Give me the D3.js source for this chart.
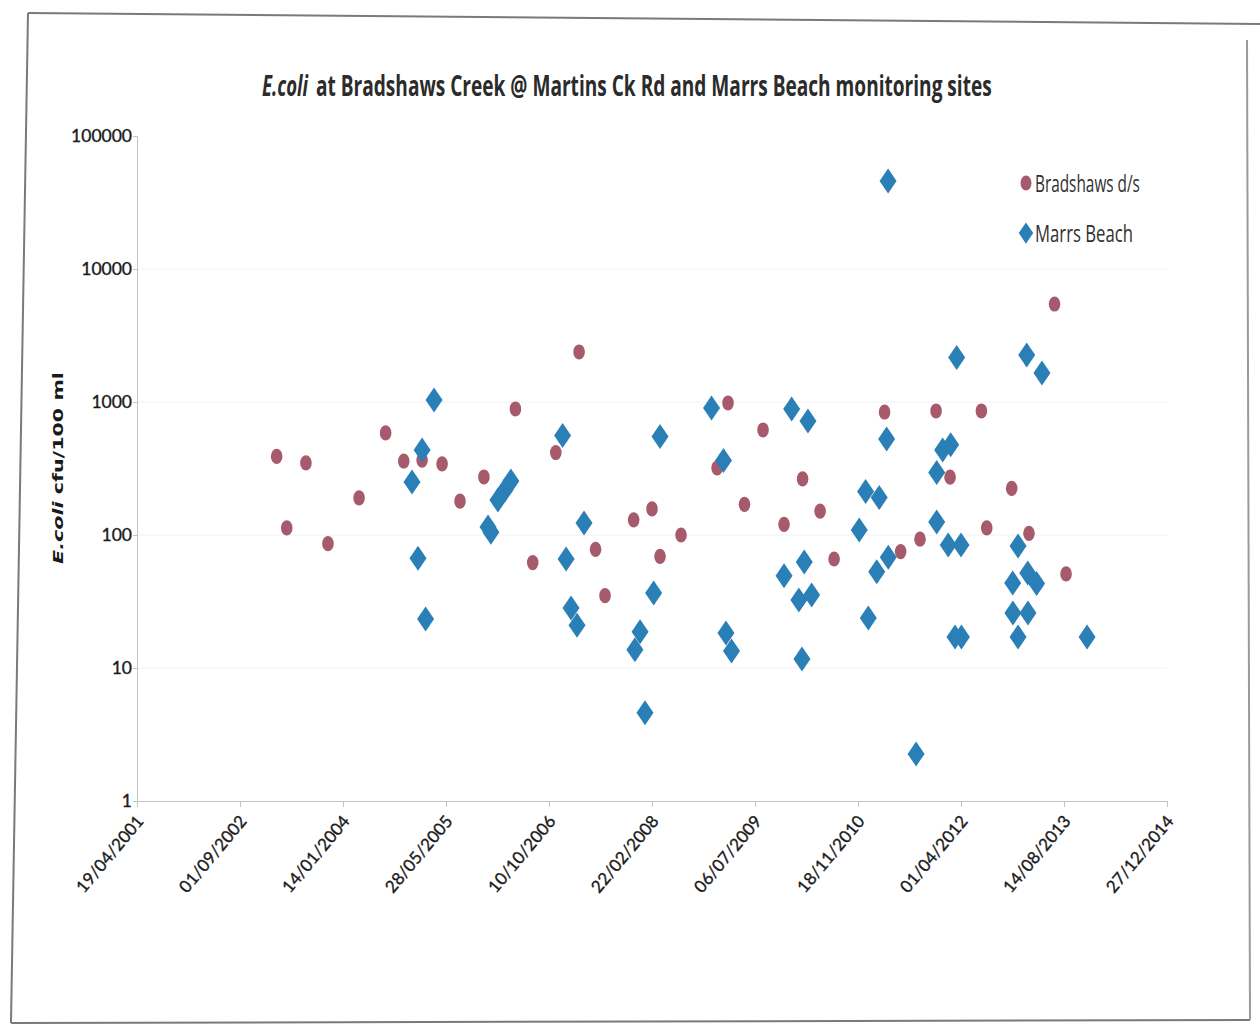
<!DOCTYPE html>
<html>
<head>
<meta charset="utf-8">
<script src="https://cdn.jsdelivr.net/npm/d3@7/dist/d3.min.js"></script>
<style>
  html, body { margin: 0; padding: 0; background: #ffffff; }
  svg { display: block; }
</style>
</head>
<body>
<svg id="chart" width="1260" height="1029"></svg>
<script>
// ---------------- data ----------------
const chartTitleItalic = "E.coli";
const chartTitleRest = "at Bradshaws Creek @ Martins Ck Rd and Marrs Beach monitoring sites";
const yTitleItalic = "E.coli";
const yTitleRest = " cfu/100 ml";
const seriesNames = ["Bradshaws d/s", "Marrs Beach"];

const xTickLabels = ["19/04/2001", "01/09/2002", "14/01/2004", "28/05/2005", "10/10/2006",
  "22/02/2008", "06/07/2009", "18/11/2010", "01/04/2012", "14/08/2013", "27/12/2014"];
const yTickValues = [1, 10, 100, 1000, 10000, 100000];

const bradshawsDates = ["2003-02-26", "2003-04-16", "2003-07-18", "2003-11-02", "2004-04-01",
  "2004-08-08", "2004-11-04", "2005-02-01", "2005-05-09", "2005-08-04", "2005-11-28",
  "2006-04-30", "2006-07-23", "2006-11-12", "2007-03-05", "2007-05-24", "2007-07-09",
  "2007-11-25", "2008-02-22", "2008-04-01", "2008-07-12", "2009-01-03", "2009-02-25",
  "2009-05-16", "2009-08-14", "2009-11-24", "2010-02-22", "2010-05-18", "2010-07-25",
  "2011-03-27", "2011-06-13", "2011-09-15", "2011-12-02", "2012-02-08", "2012-07-09",
  "2012-08-04", "2012-12-03", "2013-02-25", "2013-06-29", "2013-08-24"];
const bradshawsValues = [390, 113, 348, 86, 190,
  585, 360, 366, 342, 180, 273,
  886, 62, 417, 2377, 78, 35,
  130, 157, 69, 100, 319, 983,
  170, 616, 120, 264, 151, 66,
  841, 75, 93, 856, 272, 856,
  113, 224, 103, 5455, 51];

const marrsDates = ["2004-12-14", "2005-01-12", "2005-02-01", "2005-02-18", "2005-03-31",
  "2005-12-18", "2006-01-01", "2006-02-04", "2006-03-10", "2006-04-08",
  "2006-12-15", "2007-01-01", "2007-01-25", "2007-02-23", "2007-03-29",
  "2007-12-01", "2007-12-26", "2008-01-19", "2008-03-01", "2008-04-01",
  "2008-12-07", "2009-02-03", "2009-02-15", "2009-03-14", "2009-11-24",
  "2009-12-31", "2010-02-04", "2010-02-19", "2010-03-02", "2010-03-20", "2010-04-07",
  "2010-11-24", "2010-12-25", "2011-01-07", "2011-02-17", "2011-03-01", "2011-04-06",
  "2011-04-13", "2011-04-14", "2011-08-27", "2011-12-05", "2011-12-05", "2012-01-03",
  "2012-01-30", "2012-02-11", "2012-03-03", "2012-04-03", "2012-03-11", "2012-04-01",
  "2012-12-08", "2012-12-09", "2013-01-03", "2013-01-03", "2013-02-14", "2013-02-19",
  "2013-02-20", "2013-04-03", "2013-04-29", "2013-12-04"];
const marrsValues = [250, 67, 436, 23.4, 1035,
  115, 105, 183, 218, 255,
  560, 66, 28.3, 21, 123,
  13.7, 18.7, 4.6, 36.6, 550,
  901, 363, 18.3, 13.4, 49.4,
  886, 32.5, 11.7, 62.7, 720, 35.4,
  109, 212, 23.8, 53, 191, 527,
  45900, 68, 2.26, 295, 125, 436,
  84, 478, 17.1, 17.1, 2164, 84,
  43.5, 25.9, 17.1, 82.7, 2256, 51.8,
  25.9, 43.2, 1652, 17.1];

// ---------------- drawing ----------------
const colBrad = "#a65a6c";
const colMarrs = "#2a7fb6";
const svg = d3.select("#chart");
const parseISO = d3.timeParse("%Y-%m-%d");
const parseTick = d3.timeParse("%d/%m/%Y");
const fmtTick = d3.timeFormat("%d/%m/%Y");

// helper: place a text horizontally condensed to a target width via transform
function fitText(sel, x, y, width, extra) {
  const len = sel.node().getComputedTextLength();
  const sx = width / len;
  sel.attr("transform", `translate(${x},${y}) ${extra || ""} scale(${sx},1)`);
}

// scanned page frame
const frame = svg.append("g").attr("stroke", "#7a7a7a").attr("stroke-width", 2).attr("fill", "none");
frame.append("line").attr("x1", 28).attr("y1", 13).attr("x2", 1260).attr("y2", 24);
frame.append("line").attr("x1", 28).attr("y1", 13).attr("x2", 11).attr("y2", 1023);
frame.append("line").attr("x1", 11).attr("y1", 1023).attr("x2", 1250).attr("y2", 1020);
frame.append("line").attr("x1", 1247).attr("y1", 40).attr("x2", 1250).attr("y2", 1020).attr("stroke", "#9a9a9a");

const x = d3.scaleTime()
  .domain([parseTick(xTickLabels[0]), parseTick(xTickLabels[xTickLabels.length - 1])])
  .range([137, 1167]);
const y = d3.scaleLog().domain([1, 100000]).range([801, 136]);

// faint gridlines
svg.append("g").selectAll("line").data(yTickValues.slice(1, -1)).join("line")
  .attr("x1", 137).attr("x2", 1167)
  .attr("y1", d => y(d)).attr("y2", d => y(d))
  .attr("stroke", "#f2f2f2").attr("stroke-width", 1);

// y axis
const yAxis = svg.append("g").attr("transform", "translate(137,0)")
  .call(d3.axisLeft(y).tickValues(yTickValues).tickFormat(d3.format("d")).tickSize(4).tickPadding(1));
yAxis.select(".domain").attr("stroke", "#c4c4c4");
yAxis.selectAll(".tick line").attr("stroke", "#c4c4c4");
yAxis.selectAll(".tick text")
  .attr("font-family", "Lato, 'Open Sans', sans-serif")
  .attr("font-size", 17.5).attr("fill", "#1a1a1a")
  .attr("stroke", "#1a1a1a").attr("stroke-width", 0.35);

// x axis
const xAxis = svg.append("g").attr("transform", "translate(0,801)")
  .call(d3.axisBottom(x).tickValues(xTickLabels.map(parseTick)).tickFormat(fmtTick).tickSize(6).tickPadding(0));
xAxis.select(".domain").attr("stroke", "#c4c4c4");
xAxis.selectAll(".tick line").attr("stroke", "#c4c4c4");
xAxis.selectAll(".tick text")
  .attr("font-family", "Lato, 'Open Sans', sans-serif")
  .attr("font-size", 17).attr("fill", "#1a1a1a")
  .attr("stroke", "#1a1a1a").attr("stroke-width", 0.35)
  .attr("text-anchor", "end")
  .attr("dy", "0.35em")
  .attr("transform", "translate(-2,13) rotate(-50)");

// Title (two parts, condensed like the reference)
const titleFont = "'Open Sans', 'Liberation Sans', sans-serif";
const t1 = svg.append("text")
  .attr("font-family", titleFont)
  .attr("font-weight", "bold").attr("font-style", "italic").attr("font-size", 28).attr("fill", "#2b2b2b")
  .text(chartTitleItalic);
fitText(t1, 262, 96, 46);
const t2 = svg.append("text")
  .attr("font-family", titleFont)
  .attr("font-weight", "bold").attr("font-size", 28).attr("fill", "#2b2b2b")
  .text(chartTitleRest);
fitText(t2, 316, 96, 676);

// Y axis title
const yt = svg.append("text")
  .attr("text-anchor", "middle")
  .attr("font-family", "'DejaVu Sans', Verdana, sans-serif")
  .attr("font-weight", "bold").attr("font-size", 14).attr("fill", "#1a1a1a");
yt.append("tspan").attr("font-style", "italic").text(yTitleItalic);
yt.append("tspan").text(yTitleRest);
fitText(yt, 63, 468, 192, "rotate(-90)");

// markers
const diamond = "M0,-12.5L8.5,0L0,12.5L-8.5,0Z";
const brad = bradshawsDates.map((d, i) => ({ date: parseISO(d), value: bradshawsValues[i] }));
const marrs = marrsDates.map((d, i) => ({ date: parseISO(d), value: marrsValues[i] }));

svg.append("g").selectAll("ellipse").data(brad).join("ellipse")
  .attr("cx", d => x(d.date)).attr("cy", d => y(d.value))
  .attr("rx", 5.8).attr("ry", 7.6)
  .attr("fill", colBrad);

svg.append("g").selectAll("path").data(marrs).join("path")
  .attr("d", diamond)
  .attr("transform", d => `translate(${x(d.date)},${y(d.value)})`)
  .attr("fill", colMarrs);

// Legend
const leg = svg.append("g");
leg.append("ellipse").attr("cx", 1026).attr("cy", 183).attr("rx", 5.5).attr("ry", 7.5).attr("fill", colBrad);
leg.append("path").attr("d", diamond).attr("transform", "translate(1026,233) scale(0.85)").attr("fill", colMarrs);
const legWidths = [105, 98];
seriesNames.forEach((name, i) => {
  const t = leg.append("text")
    .attr("dy", "0.35em")
    .attr("font-family", "'Open Sans', 'Liberation Sans', sans-serif")
    .attr("font-size", 23).attr("fill", "#303030")
    .text(name);
  fitText(t, 1035, 184 + i * 50, legWidths[i]);
});
</script>
</body>
</html>
